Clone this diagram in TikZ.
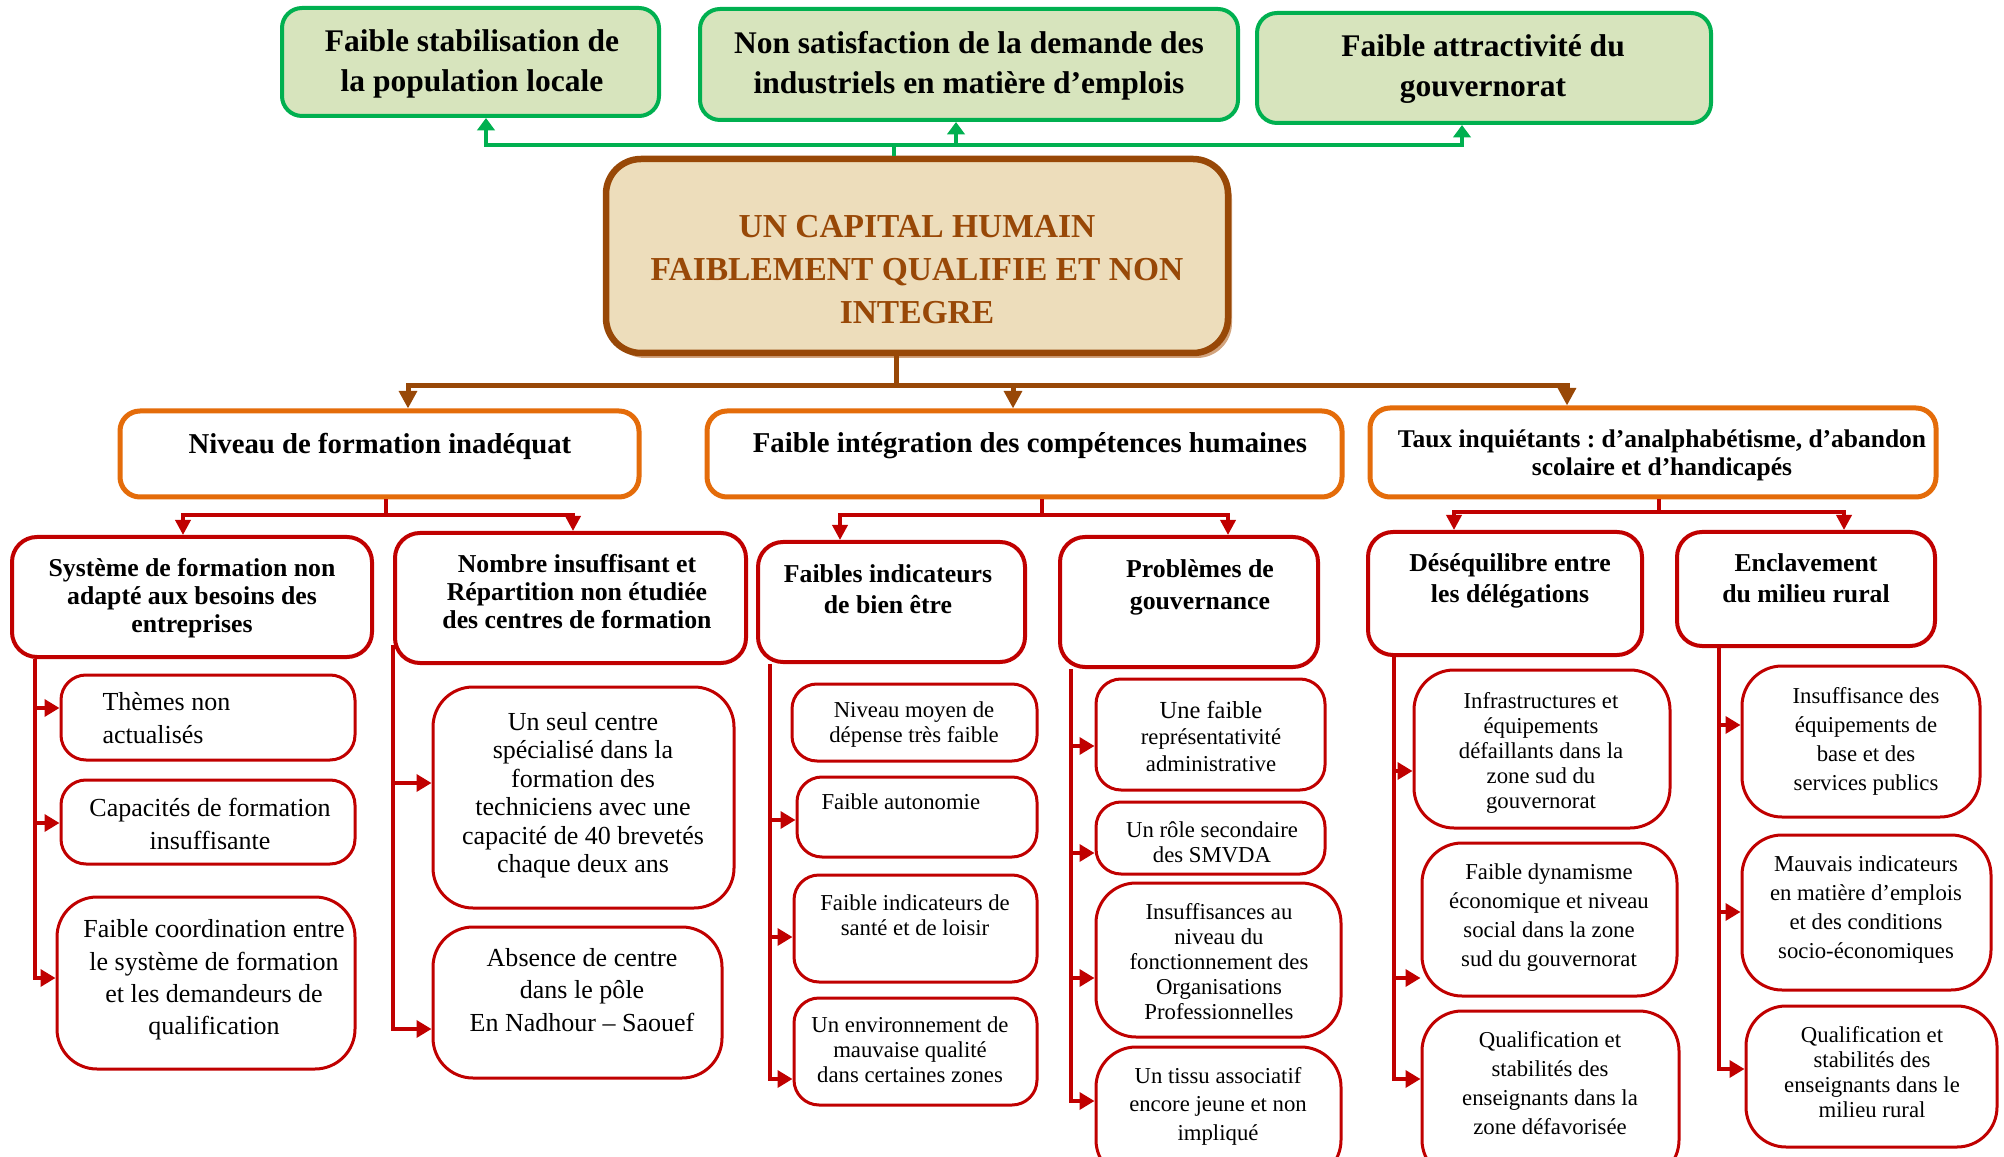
\documentclass[tikz,border=0pt]{standalone}
\usepackage{fontspec}
\setmainfont{Liberation Serif}
\usetikzlibrary{arrows.meta, fit, shadows}
\frenchspacing

\definecolor{vert}{HTML}{00B050}
\definecolor{vertclair}{HTML}{D7E4BD}
\definecolor{brun}{HTML}{984807}
\definecolor{parchemin}{HTML}{EDDDBB}
\definecolor{ombre}{HTML}{D2A47E}
\definecolor{orangef}{HTML}{E46C0A}
\definecolor{rouge}{HTML}{C00000}

\begin{document}
\begin{tikzpicture}[
  x=0.4pt, y=-0.4pt,
  greenbox/.style={draw=vert, line width=1.6pt, fill=vertclair, rounded corners=8pt, inner sep=0pt},
  mainbox/.style={draw=brun, line width=2.6pt, fill=parchemin, rounded corners=14pt, inner sep=0pt,
    drop shadow={shadow xshift=1.6pt, shadow yshift=-2pt, fill=ombre, opacity=1}},
  orangebox/.style={draw=orangef, line width=2pt, fill=white, rounded corners=8pt, inner sep=0pt},
  causebox/.style={draw=rouge, line width=1.6pt, fill=white, rounded corners=10pt, inner sep=0pt},
  leafbox/.style={draw=rouge, line width=1.2pt, fill=white, rounded corners=10pt, inner sep=0pt},
  roundbig/.style={rounded corners=16pt},
  txt/.style={inner sep=0pt, align=center},
  greentxt/.style={txt, font=\fontsize{12.6}{16}\selectfont\bfseries},
  titletxt/.style={txt, text=brun, font=\fontsize{13.4}{17.2}\selectfont\bfseries},
  orangetxt/.style={txt, font=\fontsize{#1}{11.2}\selectfont\bfseries},
  orangetxt/.default=11.5,
  causetxt/.style={txt, font=\fontsize{10.3}{#1}\selectfont\bfseries},
  causetxt/.default=11.2,
  leaftxt/.style={txt, font=\fontsize{10.4}{#1}\selectfont},
  leaftxt/.default=12.9,
  smalltxt/.style={txt, font=\fontsize{9.1}{#1}\selectfont},
  smalltxt/.default=10,
  greenline/.style={draw=vert, line width=1.6pt},
  greenarrow/.style={greenline, -{Triangle[length=5pt, width=7pt]}},
  brownline/.style={draw=brun, line width=2pt},
  brownarrow/.style={brownline, -{Triangle[length=7pt, width=7pt]}},
  redline/.style={draw=rouge, line width=1.4pt},
  redarrow/.style={redline, -{Triangle[length=6pt, width=6pt]}},
  leafarrow/.style={redline, -{Triangle[length=6pt, width=6.8pt]}}
]
  \useasboundingbox (0,0) rectangle (2004,1157);
  \clip (0,0) rectangle (2004,1157);

  % Effets
  \node[greenbox, fit={(282,8) (659,116)}] (stabil) {};
  \node[greentxt] (stabil-t) at (472,64) {Faible stabilisation de\\la population locale};
  \node[greenbox, fit={(700,9) (1238,120)}] (demande) {};
  \node[greentxt] (demande-t) at (969,66) {Non satisfaction de la demande des\\industriels en matière d’emplois};
  \node[greenbox, fit={(1257,13) (1711,123)}] (attract) {};
  \node[greentxt] (attract-t) at (1483,69) {Faible attractivité du\\gouvernorat};

  % Probleme central
  \node[mainbox, fit={(606,159) (1228,353)}] (capital) {};
  \node[titletxt] (capital-t) at (917,270) {UN CAPITAL HUMAIN\\FAIBLEMENT QUALIFIE ET NON\\INTEGRE};

  % Causes principales
  \node[orangebox, fit={(120,411) (639,497)}] (formation) {};
  \node[orangetxt] (formation-t) at (380,446) {Niveau de formation inadéquat};
  \node[orangebox, fit={(707,411) (1342,497)}] (integration) {};
  \node[orangetxt] (integration-t) at (1030,446) {Faible intégration des compétences humaines};
  \node[orangebox, fit={(1370,408) (1936,497)}] (taux) {};
  \node[orangetxt=10.2] (taux-t) at (1662,455) {Taux inquiétants : d’analphabétisme, d’abandon\\scolaire et d’handicapés};

  % Causes secondaires
  \node[causebox, fit={(12,537) (372,657)}] (systeme) {};
  \node[causetxt] (systeme-t) at (192,598) {Système de formation non\\adapté aux besoins des\\entreprises};
  \node[causebox, fit={(395,533) (746,663)}] (nombre) {};
  \node[causetxt] (nombre-t) at (577,592) {Nombre insuffisant et\\Répartition non étudiée\\des centres de formation};
  \node[causebox, fit={(758,542) (1025,662)}] (bienetre) {};
  \node[causetxt=12.4] (bienetre-t) at (888,589) {Faibles indicateurs\\de bien être};
  \node[causebox, fit={(1060,537) (1318,667)}] (gouvernance) {};
  \node[causetxt=12.8] (gouvernance-t) at (1200,587) {Problèmes de\\gouvernance};
  \node[causebox, fit={(1368,532) (1642,655)}] (desequilibre) {};
  \node[causetxt=12.4] (desequilibre-t) at (1510,581) {Déséquilibre entre\\les délégations};
  \node[causebox, fit={(1677,532) (1935,646)}] (enclavement) {};
  \node[causetxt=12.4] (enclavement-t) at (1806,578) {Enclavement\\du milieu rural};

  % Detail : formation
  \node[leafbox, fit={(61,675) (355,760)}] (themes) {};
  \node[leaftxt, align=left, anchor=west] (themes-t) at (102,718) {Thèmes non\\actualisés};
  \node[leafbox, fit={(61,780) (355,864)}] (capacites) {};
  \node[leaftxt] (capacites-t) at (210,824) {Capacités de formation\\insuffisante};
  \node[leafbox, roundbig, fit={(57,897) (355,1069)}] (coordination) {};
  \node[leaftxt] (coordination-t) at (214,980) {Faible coordination entre\\le système de formation\\et les demandeurs de\\qualification};
  \node[leafbox, roundbig, fit={(433,687) (734,908)}] (seulcentre) {};
  \node[leaftxt=11.4] (seulcentre-t) at (583,795) {Un seul centre\\spécialisé dans la\\formation des\\techniciens avec une\\capacité de 40 brevetés\\chaque deux ans};
  \node[leafbox, roundbig, fit={(433,927) (722,1078)}] (absence) {};
  \node[leaftxt] (absence-t) at (582,990) {Absence de centre\\dans le pôle\\En Nadhour – Saouef};

  % Detail : integration
  \node[leafbox, fit={(792,684) (1037,761)}] (niveaumoyen) {};
  \node[smalltxt] (niveaumoyen-t) at (914,725) {Niveau moyen de\\dépense très faible};
  \node[leafbox, fit={(797,777) (1037,857)}] (autonomie) {};
  \node[smalltxt, anchor=west] (autonomie-t) at (821,802) {Faible autonomie};
  \node[leafbox, fit={(794,875) (1037,982)}] (sante) {};
  \node[smalltxt] (sante-t) at (915,915) {Faible indicateurs de\\santé et de loisir};
  \node[leafbox, fit={(794,998) (1037,1105)}] (environnement) {};
  \node[smalltxt] (environnement-t) at (910,1050) {Un environnement de\\mauvaise qualité\\dans certaines zones};
  \node[leafbox, fit={(1096,679) (1325,790)}] (representativite) {};
  \node[smalltxt=10.6] (representativite-t) at (1211,736) {{\fontsize{9.8}{10.6}\selectfont Une faible}\\représentativité\\administrative};
  \node[leafbox, fit={(1096,802) (1325,874)}] (smvda) {};
  \node[smalltxt] (smvda-t) at (1212,842) {Un rôle secondaire\\des SMVDA};
  \node[leafbox, roundbig, fit={(1096,883) (1341,1037)}] (organisations) {};
  \node[smalltxt] (organisations-t) at (1219,962) {Insuffisances au\\niveau du\\fonctionnement des\\Organisations\\Professionnelles};
  \node[leafbox, roundbig, fit={(1096,1047) (1341,1180)}] (tissu) {};
  \node[smalltxt=11.4] (tissu-t) at (1218,1106) {Un tissu associatif\\encore jeune et non\\impliqué};

  % Detail : taux
  \node[leafbox, roundbig, fit={(1414,670) (1670,828)}] (infrastructures) {};
  \node[smalltxt] (infrastructures-t) at (1541,753) {Infrastructures et\\équipements\\défaillants dans la\\zone sud du\\gouvernorat};
  \node[leafbox, roundbig, fit={(1422,843) (1677,996)}] (dynamisme) {};
  \node[smalltxt=11.6] (dynamisme-t) at (1549,918) {Faible dynamisme\\économique et niveau\\social dans la zone\\sud du gouvernorat};
  \node[leafbox, roundbig, fit={(1422,1011) (1679,1180)}] (qualifsud) {};
  \node[smalltxt=11.6] (qualifsud-t) at (1550,1083) {Qualification et\\stabilités des\\enseignants dans la\\zone défavorisée};
  \node[leafbox, roundbig, fit={(1742,666) (1980,817)}] (equipements) {};
  \node[smalltxt=11.6] (equipements-t) at (1866,741) {Insuffisance des\\équipements de\\base et des\\services publics};
  \node[leafbox, roundbig, fit={(1742,835) (1991,990)}] (mauvais) {};
  \node[smalltxt=11.6] (mauvais-t) at (1866,910) {Mauvais indicateurs\\en matière d’emplois\\et des conditions\\socio-économiques};
  \node[leafbox, roundbig, fit={(1746,1006) (1997,1147)}] (qualifrural) {};
  \node[smalltxt] (qualifrural-t) at (1872,1072) {Qualification et\\stabilités des\\enseignants dans le\\milieu rural};

  % Connecteurs vers les effets
  \coordinate (gj) at (894,145);
  \draw[greenline] (capital.north -| gj) -- (gj);
  \draw[greenarrow] (gj) -| (stabil.south -| 486,0);
  \draw[greenarrow] (gj) -| (demande.south -| 956,0);
  \draw[greenarrow] (gj) -| (attract.south -| 1462,0);

  % Connecteurs vers les causes
  \coordinate (bj) at (896,386);
  \draw[brownline] (capital.south -| bj) -- (bj);
  \draw[brownarrow] (bj) -| (formation.north -| 408,0);
  \draw[brownarrow] (bj) -| (integration.north -| 1013,0);
  \draw[brownarrow] (bj) -| (taux.north -| 1567,0);

  \coordinate (fj) at (386,515);
  \draw[redline] (formation.south -| fj) -- (fj);
  \draw[redarrow] (fj) -| (systeme.north -| 183,0);
  \draw[redarrow] (fj) -| (nombre.north -| 573,0);
  \coordinate (ij) at (1042,515);
  \draw[redline] (integration.south -| ij) -- (ij);
  \draw[redarrow] (ij) -| (bienetre.north -| 840,0);
  \draw[redarrow] (ij) -| (gouvernance.north -| 1228,0);
  \coordinate (tj) at (1659,512);
  \draw[redline] (taux.south -| tj) -- (tj);
  \draw[redarrow] (tj) -| (desequilibre.north -| 1454,0);
  \draw[redarrow] (tj) -| (enclavement.north -| 1844,0);

  % Connecteurs vers les details
  \draw[leafarrow] (systeme.south -| 35,0) |- (themes.west |- 0,708);
  \draw[leafarrow] (systeme.south -| 35,0) |- (capacites.west |- 0,823);
  \draw[leafarrow] (systeme.south -| 35,0) |- (coordination.west |- 0,978);
  \draw[leafarrow] (nombre.west |- 0,645) |- (seulcentre.west |- 0,783);
  \draw[leafarrow] (nombre.west |- 0,645) |- (absence.west |- 0,1029);
  \draw[leafarrow] (bienetre.south -| 770,0) |- (autonomie.west |- 0,820);
  \draw[leafarrow] (bienetre.south -| 770,0) |- (sante.west |- 0,937);
  \draw[leafarrow] (bienetre.south -| 770,0) |- (environnement.west |- 0,1079);
  \draw[leafarrow] (gouvernance.south -| 1071,0) |- (representativite.west |- 0,746);
  \draw[leafarrow] (gouvernance.south -| 1071,0) |- (smvda.west |- 0,853);
  \draw[leafarrow] (gouvernance.south -| 1071,0) |- (organisations.west |- 0,978);
  \draw[leafarrow] (gouvernance.south -| 1071,0) |- (tissu.west |- 0,1101);
  \draw[leafarrow] (desequilibre.south -| 1394,0) |- (infrastructures.west |- 0,771);
  \draw[leafarrow] (desequilibre.south -| 1394,0) |- (dynamisme.west |- 0,978);
  \draw[leafarrow] (desequilibre.south -| 1394,0) |- (qualifsud.west |- 0,1079);
  \draw[leafarrow] (enclavement.south -| 1719,0) |- (equipements.west |- 0,725);
  \draw[leafarrow] (enclavement.south -| 1719,0) |- (mauvais.west |- 0,912);
  \draw[leafarrow] (enclavement.south -| 1719,0) |- (qualifrural.west |- 0,1069);
\end{tikzpicture}
\end{document}
